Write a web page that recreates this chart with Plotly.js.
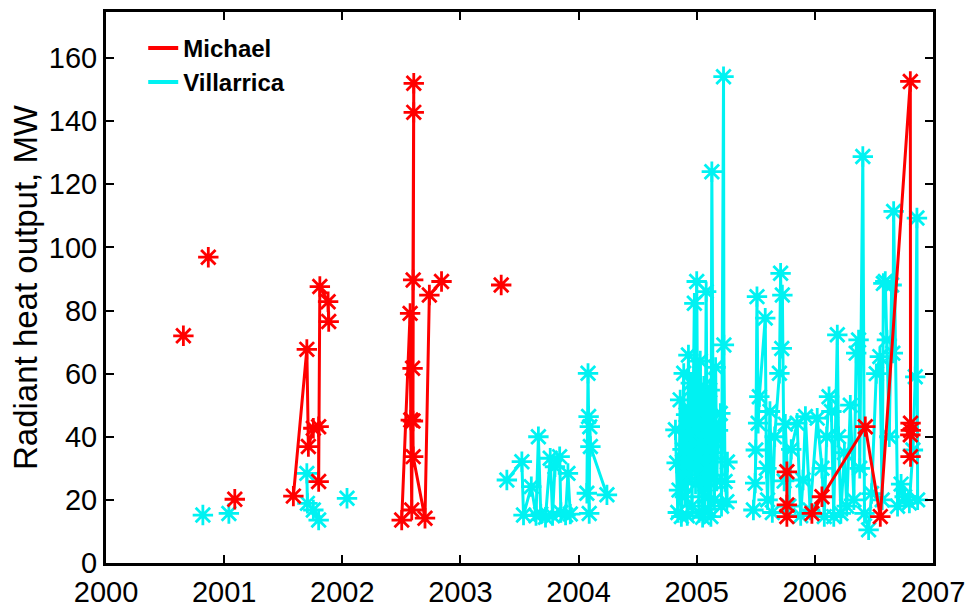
<!DOCTYPE html>
<html>
<head>
<meta charset="utf-8">
<script src="https://cdn.plot.ly/plotly-3.0.1.min.js"></script>
<style>
html,body{margin:0;padding:0;background:#fff;}
#chart{width:969px;height:608px;}
</style>
</head>
<body>
<div id="chart"></div>
<script>
// ---- Data (decimal year, radiant heat output in MW); null = gap in line ----
var michaelYear = [2000.655, null, 2000.866, null, 2001.09, null,
  2001.586, 2001.70, 2001.713, 2001.755, 2001.80, 2001.80, 2001.81, 2001.88, 2001.885, null,
  2002.503, 2002.574, 2002.58, 2002.588, 2002.595, 2002.605, 2002.605, 2002.60, 2002.598, 2002.60, 2002.70, 2002.737, 2002.84, null,
  2003.345, null,
  2005.763, 2005.763, 2005.763, null,
  2005.975, 2006.06, 2006.427, 2006.554, 2006.808, 2006.81, 2006.812, 2006.808, 2006.81];
var michaelMW = [72.0, null, 96.9, null, 20.2, null,
  21.2, 67.7, 36.9, 42.7, 43.2, 25.8, 87.6, 82.8, 76.5, null,
  13.6, 79.1, 45.3, 16.8, 61.7, 152.0, 142.8, 89.7, 45.0, 33.7, 14.2, 84.9, 89.2, null,
  88.1, null,
  28.9, 18.4, 14.7, null,
  15.7, 21.0, 43.2, 14.7, 152.6, 44.3, 42.0, 40.6, 33.7];

var villarricaYear = [2000.82, null, 2001.04, null,
  2001.70, 2001.705, 2001.755, 2001.80, null,
  2002.04, null,
  2003.393, 2003.52, 2003.534, 2003.60, 2003.64, 2003.66, 2003.68, 2003.72, 2003.76, 2003.78, 2003.80, 2003.84, 2003.85, 2003.89, 2003.91, 2003.93, null,
  2004.07, 2004.08, 2004.085, 2004.09, 2004.095, 2004.10, 2004.24, null,
  2004.82, 2004.83, 2004.84, 2004.85, 2004.86, 2004.87, 2004.88, 2004.89, 2004.90, 2004.91, 2004.92, 2004.93, 2004.94, 2004.95, 2004.96, 2004.97, 2004.98, 2004.99, 2005.00, 2005.01, 2005.02, 2005.03, 2005.04, 2005.05, 2005.06, 2005.07, 2005.08, 2005.09, 2005.10, 2005.11, 2005.12, 2005.128, 2005.14, 2005.15, 2005.16, 2005.17, 2005.18, 2005.20, 2005.21, 2005.227, 2005.23, 2005.24, 2005.255, 2005.26, null,
  2005.48, 2005.495, 2005.50, 2005.51, 2005.52, 2005.53, 2005.58, 2005.59, 2005.60, 2005.62, 2005.64, 2005.66, 2005.70, 2005.71, 2005.72, 2005.725, 2005.74, 2005.75, 2005.78, 2005.80, 2005.85, 2005.88, 2005.90, 2005.92, 2005.96, 2006.02, 2006.06, 2006.08, 2006.10, 2006.12, 2006.14, 2006.16, 2006.19, 2006.20, 2006.22, 2006.25, 2006.27, 2006.30, 2006.33, 2006.35, 2006.37, 2006.38, 2006.406, 2006.42, 2006.455, 2006.48, 2006.52, 2006.55, 2006.57, 2006.58, 2006.596, 2006.61, 2006.63, 2006.65, 2006.66, 2006.667, 2006.70, 2006.73, 2006.76, 2006.80, 2006.83, 2006.85, 2006.864, 2006.87];
var villarricaMW = [15.2, null, 15.7, null,
  28.4, 18.9, 16.8, 13.6, null,
  20.5, null,
  26.3, 32.1, 15.2, 24.2, 15.0, 40.0, 15.5, 14.5, 33.2, 15.0, 30.5, 33.7, 16.0, 15.2, 28.4, 15.5, null,
  22.1, 60.1, 46.4, 15.7, 43.2, 36.9, 21.6, null,
  42.2, 31.7, 16.0, 23.1, 51.7, 14.7, 36.0, 60.1, 21.0, 47.0, 15.0, 65.9, 28.0, 57.0, 18.0, 44.0, 82.3, 25.0, 89.2, 33.0, 16.0, 64.0, 38.0, 14.5, 56.0, 21.0, 86.0, 30.0, 17.0, 54.8, 14.7, 124.0, 35.0, 20.0, 62.0, 26.0, 42.0, 47.4, 18.0, 154.1, 69.1, 25.8, 19.4, 32.0, null,
  16.8, 25.3, 35.8, 84.4, 44.3, 52.7, 77.6, 30.0, 20.0, 48.0, 16.0, 40.0, 60.1, 91.8, 68.0, 84.9, 26.0, 44.0, 18.0, 36.0, 44.3, 15.0, 26.3, 46.4, 16.8, 45.9, 30.0, 14.7, 40.0, 52.7, 48.0, 14.7, 72.3, 40.0, 15.7, 35.0, 18.0, 50.0, 20.0, 66.5, 70.7, 30.0, 128.8, 15.7, 10.5, 22.0, 60.0, 65.4, 20.0, 88.6, 89.2, 70.7, 40.0, 88.1, 66.5, 111.4, 18.0, 25.0, 21.0, 19.0, 35.8, 59.0, 109.3, 20.0];

var seriesNames = ["Michael", "Villarrica"];
var xTickVals = [2000, 2001, 2002, 2003, 2004, 2005, 2006, 2007];
var yTickVals = [0, 20, 40, 60, 80, 100, 120, 140, 160];

var RED = "#ff0000", CYAN = "#00f2f2";
var FONT = "Liberation Sans, Arial, sans-serif";

function markerOf(c){ return {symbol: "asterisk-open", size: 17, color: c, line: {color: c, width: 2.8}}; }

var traces = [
  {x: villarricaYear, y: villarricaMW, mode: "lines+markers", line: {color: CYAN, width: 3}, marker: markerOf(CYAN), showlegend: false, connectgaps: false, hoverinfo: "x+y"},
  {x: michaelYear, y: michaelMW, mode: "lines+markers", line: {color: RED, width: 3}, marker: markerOf(RED), showlegend: false, connectgaps: false, hoverinfo: "x+y"},
  {x: [null], y: [null], mode: "lines", name: seriesNames[0], line: {color: RED, width: 4}, legendrank: 1},
  {x: [null], y: [null], mode: "lines", name: seriesNames[1], line: {color: CYAN, width: 4}, legendrank: 2}
];

var axisCommon = {
  showgrid: false, zeroline: false, showline: true, linecolor: "#000", linewidth: 3,
  mirror: "ticks", ticks: "inside", ticklen: 8, tickwidth: 2, tickcolor: "#000",
  tickfont: {family: FONT, size: 29, color: "#000"}
};

var layout = {
  width: 969, height: 608,
  margin: {l: 106, r: 36, t: 12, b: 45},
  paper_bgcolor: "#fff", plot_bgcolor: "#fff",
  showlegend: true,
  legend: {x: 0.045, y: 0.975, xanchor: "left", yanchor: "top", bgcolor: "rgba(0,0,0,0)",
           font: {family: FONT, size: 24, color: "#000", weight: "bold"}, tracegroupgap: 0, itemwidth: 30},
  xaxis: Object.assign({}, axisCommon, {range: [2000, 2007], tickvals: xTickVals, ticktext: xTickVals.map(String), ticklabelstandoff: 1}),
  yaxis: Object.assign({}, axisCommon, {range: [0, 174.6], tickvals: yTickVals, ticktext: yTickVals.map(String),
    title: {text: "Radiant heat output, MW", font: {family: FONT, size: 33, color: "#000"}, standoff: 2}})
};

Plotly.newPlot("chart", traces, layout, {displayModeBar: false, staticPlot: true});
</script>
</body>
</html>
